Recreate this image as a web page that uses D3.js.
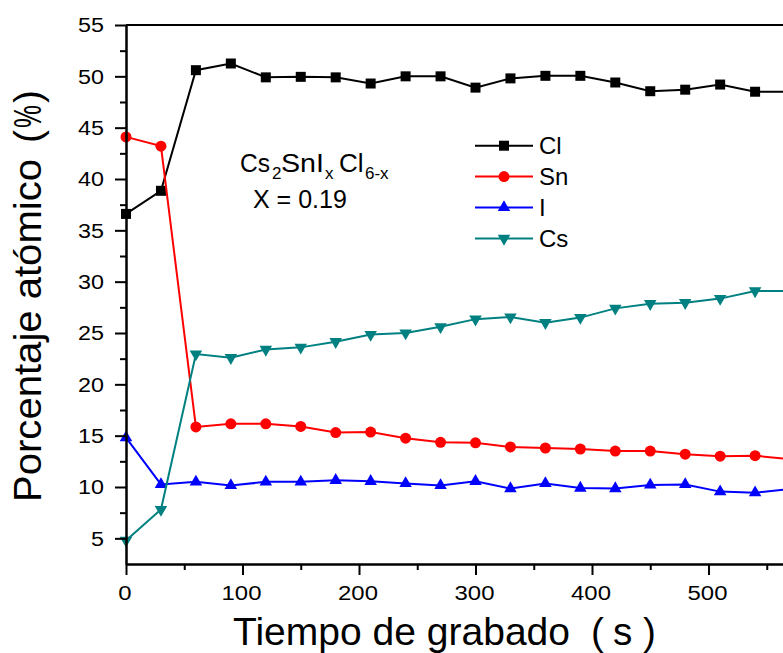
<!DOCTYPE html>
<html>
<head>
<meta charset="utf-8">
<script src="https://cdn.jsdelivr.net/npm/d3@7"></script>
<style>
  body { margin: 0; background: #ffffff; }
  svg { display: block; }
  text { font-family: "Liberation Sans", Arial, sans-serif; fill: #000; }
</style>
</head>
<body>
<svg id="chart" width="783" height="653"></svg>
<script>
// Etching time (s) and atomic percentage per element
const times = [0, 30, 60, 90, 120, 150, 180, 210, 240, 270, 300, 330, 360, 390, 420, 450, 480, 510, 540, 570];
const clValues = [36.6, 38.85, 50.6, 51.25, 49.9, 49.95, 49.9, 49.3, 50.0, 50.0, 48.9, 49.8, 50.05, 50.05, 49.4, 48.55, 48.7, 49.2, 48.5, 48.5];
const snValues = [44.1, 43.2, 15.85, 16.15, 16.15, 15.9, 15.3, 15.35, 14.75, 14.35, 14.3, 13.9, 13.8, 13.7, 13.5, 13.5, 13.2, 13.0, 13.05, 12.7];
const iValues  = [14.8, 10.25, 10.5, 10.15, 10.5, 10.5, 10.65, 10.55, 10.35, 10.15, 10.55, 9.85, 10.35, 9.9, 9.85, 10.2, 10.25, 9.55, 9.45, 9.8];
const csValues = [4.8, 7.8, 22.95, 22.6, 23.4, 23.6, 24.15, 24.85, 25.0, 25.6, 26.35, 26.55, 26.0, 26.5, 27.4, 27.85, 27.95, 28.35, 29.1, 29.1];

const seriesNames = ["Cl", "Sn", "I", "Cs"];
const xTicks = [0, 100, 200, 300, 400, 500];
const yTicks = [5, 10, 15, 20, 25, 30, 35, 40, 45, 50, 55];

const series = [
  { name: seriesNames[0], values: clValues, color: "#000000", symbol: d3.symbolSquare,   size: 100, rot: 0 },
  { name: seriesNames[1], values: snValues, color: "#ff0000", symbol: d3.symbolCircle,   size: 95,  rot: 0 },
  { name: seriesNames[2], values: iValues,  color: "#0000ff", symbol: d3.symbolTriangle, size: 68,  rot: 0 },
  { name: seriesNames[3], values: csValues, color: "#008080", symbol: d3.symbolTriangle, size: 68,  rot: 180 }
];

const svg = d3.select("#chart");
const plotLeft = 126, plotTop = 25, plotBottom = 564;

const x = d3.scaleLinear().domain([0, 600]).range([plotLeft, plotLeft + 699]);
const y = d3.scaleLinear().domain([2.5, 55]).range([plotBottom, plotTop]);

// Series lines and markers
const line = d3.line().x((d, i) => x(times[i])).y(d => y(d));
const plot = svg.append("g");
series.forEach(s => {
  plot.append("path")
    .attr("d", line(s.values))
    .attr("fill", "none")
    .attr("stroke", s.color)
    .attr("stroke-width", 2);
  plot.selectAll(null).data(s.values).enter().append("path")
    .attr("d", d3.symbol().type(s.symbol).size(s.size))
    .attr("transform", (d, i) => `translate(${x(times[i])},${y(d)}) rotate(${s.rot})`)
    .attr("fill", s.color);
});

// Axes
const axisStyle = g => {
  g.select(".domain").attr("stroke-width", 2);
  g.selectAll(".tick line").attr("stroke-width", 2);
  g.selectAll("text").style("font-size", "21px");
};

svg.append("g").attr("transform", `translate(0,${plotBottom})`)
  .call(d3.axisBottom(x).tickValues(d3.range(50, 600, 100)).tickSize(6).tickSizeOuter(0).tickFormat(""))
  .call(axisStyle);
svg.append("g").attr("transform", `translate(0,${plotBottom})`)
  .call(d3.axisBottom(x).tickValues(xTicks).tickSize(11).tickSizeOuter(0).tickPadding(10))
  .call(axisStyle)
  .call(g => g.selectAll(".tick text").attr("transform", "translate(-1.5,0) scale(1.14,1)"));

svg.append("g").attr("transform", `translate(${plotLeft},0)`)
  .call(d3.axisLeft(y).tickValues(d3.range(7.5, 55, 5)).tickSize(6).tickSizeOuter(0).tickFormat(""))
  .call(axisStyle);
svg.append("g").attr("transform", `translate(${plotLeft},0)`)
  .call(d3.axisLeft(y).tickValues(yTicks).tickSize(11).tickSizeOuter(0).tickPadding(11))
  .call(axisStyle)
  .call(g => g.selectAll(".tick text").attr("x", 0).attr("transform", "translate(-22,0) scale(1.11,1)"));

// Top frame line
svg.append("line")
  .attr("x1", plotLeft).attr("x2", x(600)).attr("y1", y(55)).attr("y2", y(55))
  .attr("stroke", "#000").attr("stroke-width", 2);

// Axis titles
const xTitle = svg.append("text").attr("y", 645).style("font-size", "38.7px");
xTitle.append("tspan").attr("x", 233).attr("textLength", 337).attr("lengthAdjust", "spacingAndGlyphs").text("Tiempo de grabado");
xTitle.append("tspan").attr("x", 591).text("(");
xTitle.append("tspan").attr("x", 613).text("s");
xTitle.append("tspan").attr("x", 643).text(")");

const yTitle = svg.append("text").attr("transform", "translate(41,502) rotate(-90)").style("font-size", "39px");
yTitle.append("tspan").attr("x", 0).attr("textLength", 343).attr("lengthAdjust", "spacingAndGlyphs").text("Porcentaje atómico");
yTitle.append("tspan").attr("x", 359).text("(");
yTitle.append("tspan").attr("x", 374).attr("textLength", 23).attr("lengthAdjust", "spacingAndGlyphs").text("%");
yTitle.append("tspan").attr("x", 399).text(")");

// Composition annotation
const formula = svg.append("text").style("font-size", "26px");
const parts = [["Cs", 0, 240, 30], ["2", 1, 272, 0], ["SnI", 0, 281, 43], ["x", 1, 325, 0], ["Cl", 0, 339, 0], ["6-x", 1, 365, 0]];
parts.forEach(([t, isSub, px, len]) => {
  const ts = formula.append("tspan")
    .attr("x", px)
    .attr("y", isSub ? 179 : 172)
    .style("font-size", isSub ? "17px" : "26px")
    .text(t);
  if (len) ts.attr("textLength", len).attr("lengthAdjust", "spacingAndGlyphs");
});
svg.append("text").attr("x", 253).attr("y", 208).style("font-size", "25px").text("X = 0.19");

// Legend
const legend = svg.append("g");
series.forEach((s, i) => {
  const ly = 145.7 + i * 30.9;
  legend.append("line")
    .attr("x1", 475).attr("x2", 533).attr("y1", ly).attr("y2", ly)
    .attr("stroke", s.color).attr("stroke-width", 2);
  legend.append("path")
    .attr("d", d3.symbol().type(s.symbol).size(s.size))
    .attr("transform", `translate(504,${ly}) rotate(${s.rot})`)
    .attr("fill", s.color);
  legend.append("text")
    .attr("x", 539).attr("y", ly + 8.6)
    .style("font-size", "24px")
    .text(s.name);
});
</script>
</body>
</html>
